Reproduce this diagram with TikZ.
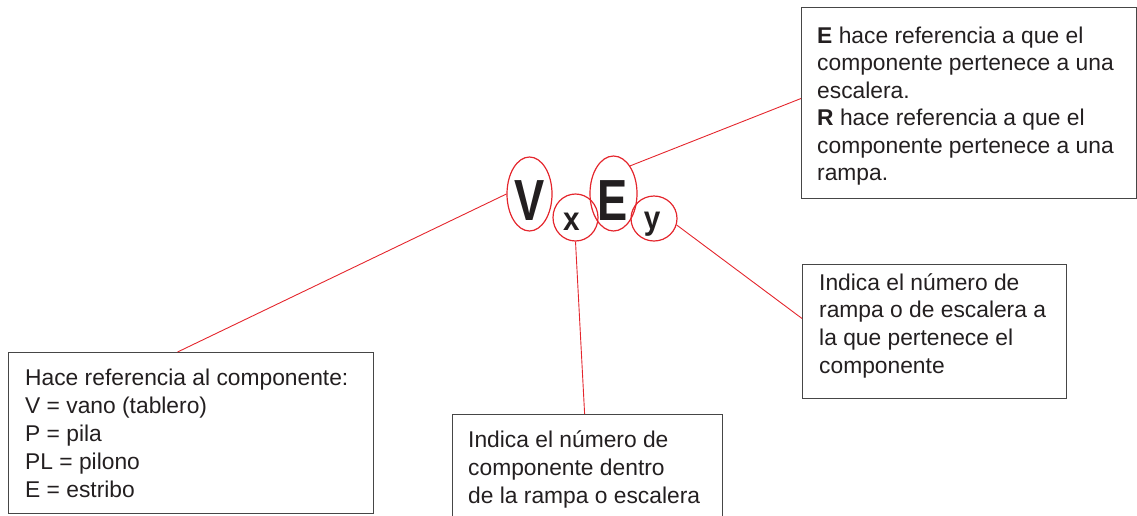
\documentclass[tikz,border=0pt]{standalone}
\usepackage{fontspec}
\setmainfont{Liberation Sans}
\usepackage{graphicx}
\usetikzlibrary{shapes.geometric,calc}
\definecolor{myred}{RGB}{228,38,45}
\definecolor{boxgray}{RGB}{70,70,70}
\definecolor{ink}{RGB}{35,31,32}
\newcommand\tblock[2]{\parbox[t]{420pt}{\fontsize{22.8}{#1}\selectfont #2}}
\begin{document}
\begin{tikzpicture}[x=1pt,y=-1pt,
  infobox/.style={draw=boxgray, line width=1.2pt, rectangle, inner sep=0pt, anchor=north west},
  ring/.style={draw=myred, line width=1.2pt, ellipse, inner sep=0pt},
  link/.style={draw=myred, line width=0.9pt},
  txt/.style={anchor=base west, inner sep=0pt, text=ink},
  big/.style={anchor=base, inner sep=0pt, text=ink, font=\fontsize{58}{58}\selectfont\bfseries},
  small/.style={anchor=base, inner sep=0pt, text=ink, font=\fontsize{33}{33}\selectfont\bfseries}]
\useasboundingbox (0,0) rectangle (1137,515);

% boxes
\node[infobox, minimum width=335pt, minimum height=191pt] (bt) at (801,7) {};
\node[infobox, minimum width=365pt, minimum height=161pt] (bl) at (8,352) {};
\node[infobox, minimum width=270pt, minimum height=110pt] (bm) at (452,414) {};
\node[infobox, minimum width=264pt, minimum height=134pt] (br) at (802,264) {};

% texts
\node[txt] (tT) at (817,43) {\tblock{27.5pt}{\textbf{E} hace referencia a que el\\componente pertenece a una\\escalera.\\\textbf{R} hace referencia a que el\\componente pertenece a una\\rampa.}};
\node[txt] (tL) at (25,385) {\tblock{28pt}{Hace referencia al componente:\\V = vano (tablero)\\P = pila\\PL = pilono\\E = estribo}};
\node[txt] (tM) at (468,447) {\tblock{28pt}{Indica el número de\\componente dentro\\de la rampa o escalera}};
\node[txt] (tR) at (819,290) {\tblock{27.7pt}{Indica el número de\\rampa o de escalera a\\la que pertenece el\\componente}};

% letters
\node[big] (lV) at (530,220) {\scalebox{0.78}[1]{V}};
\node[big] (lE) at (612.5,220) {\scalebox{0.78}[1]{E}};
\node[small] (lx) at (571.5,230) {\scalebox{0.9}[1]{x}};
\node[small] (ly) at (652,229) {\scalebox{0.9}[1]{y}};

% rings
\node[ring, minimum width=45pt, minimum height=74pt] (eV) at (529.5,194) {};
\node[ring, minimum width=45pt, minimum height=47pt] (ex) at (575.5,217.5) {};
\node[ring, minimum width=47pt, minimum height=75pt] (eE) at (613.5,193.5) {};
\node[ring, minimum width=46pt, minimum height=45pt] (ey) at (654,218.5) {};

% connectors
\draw[link] (eV.west) -- ($(bl.north west)!0.463!(bl.north east)$);
\draw[link] (ex.south) -- ($(bm.north west)!0.489!(bm.north east)$);
\draw[link] (eE.59) -- ($(bt.north west)!0.476!(bt.south west)$);
\draw[link] (ey.-16) -- ($(br.north west)!0.403!(br.south west)$);
\end{tikzpicture}
\end{document}
